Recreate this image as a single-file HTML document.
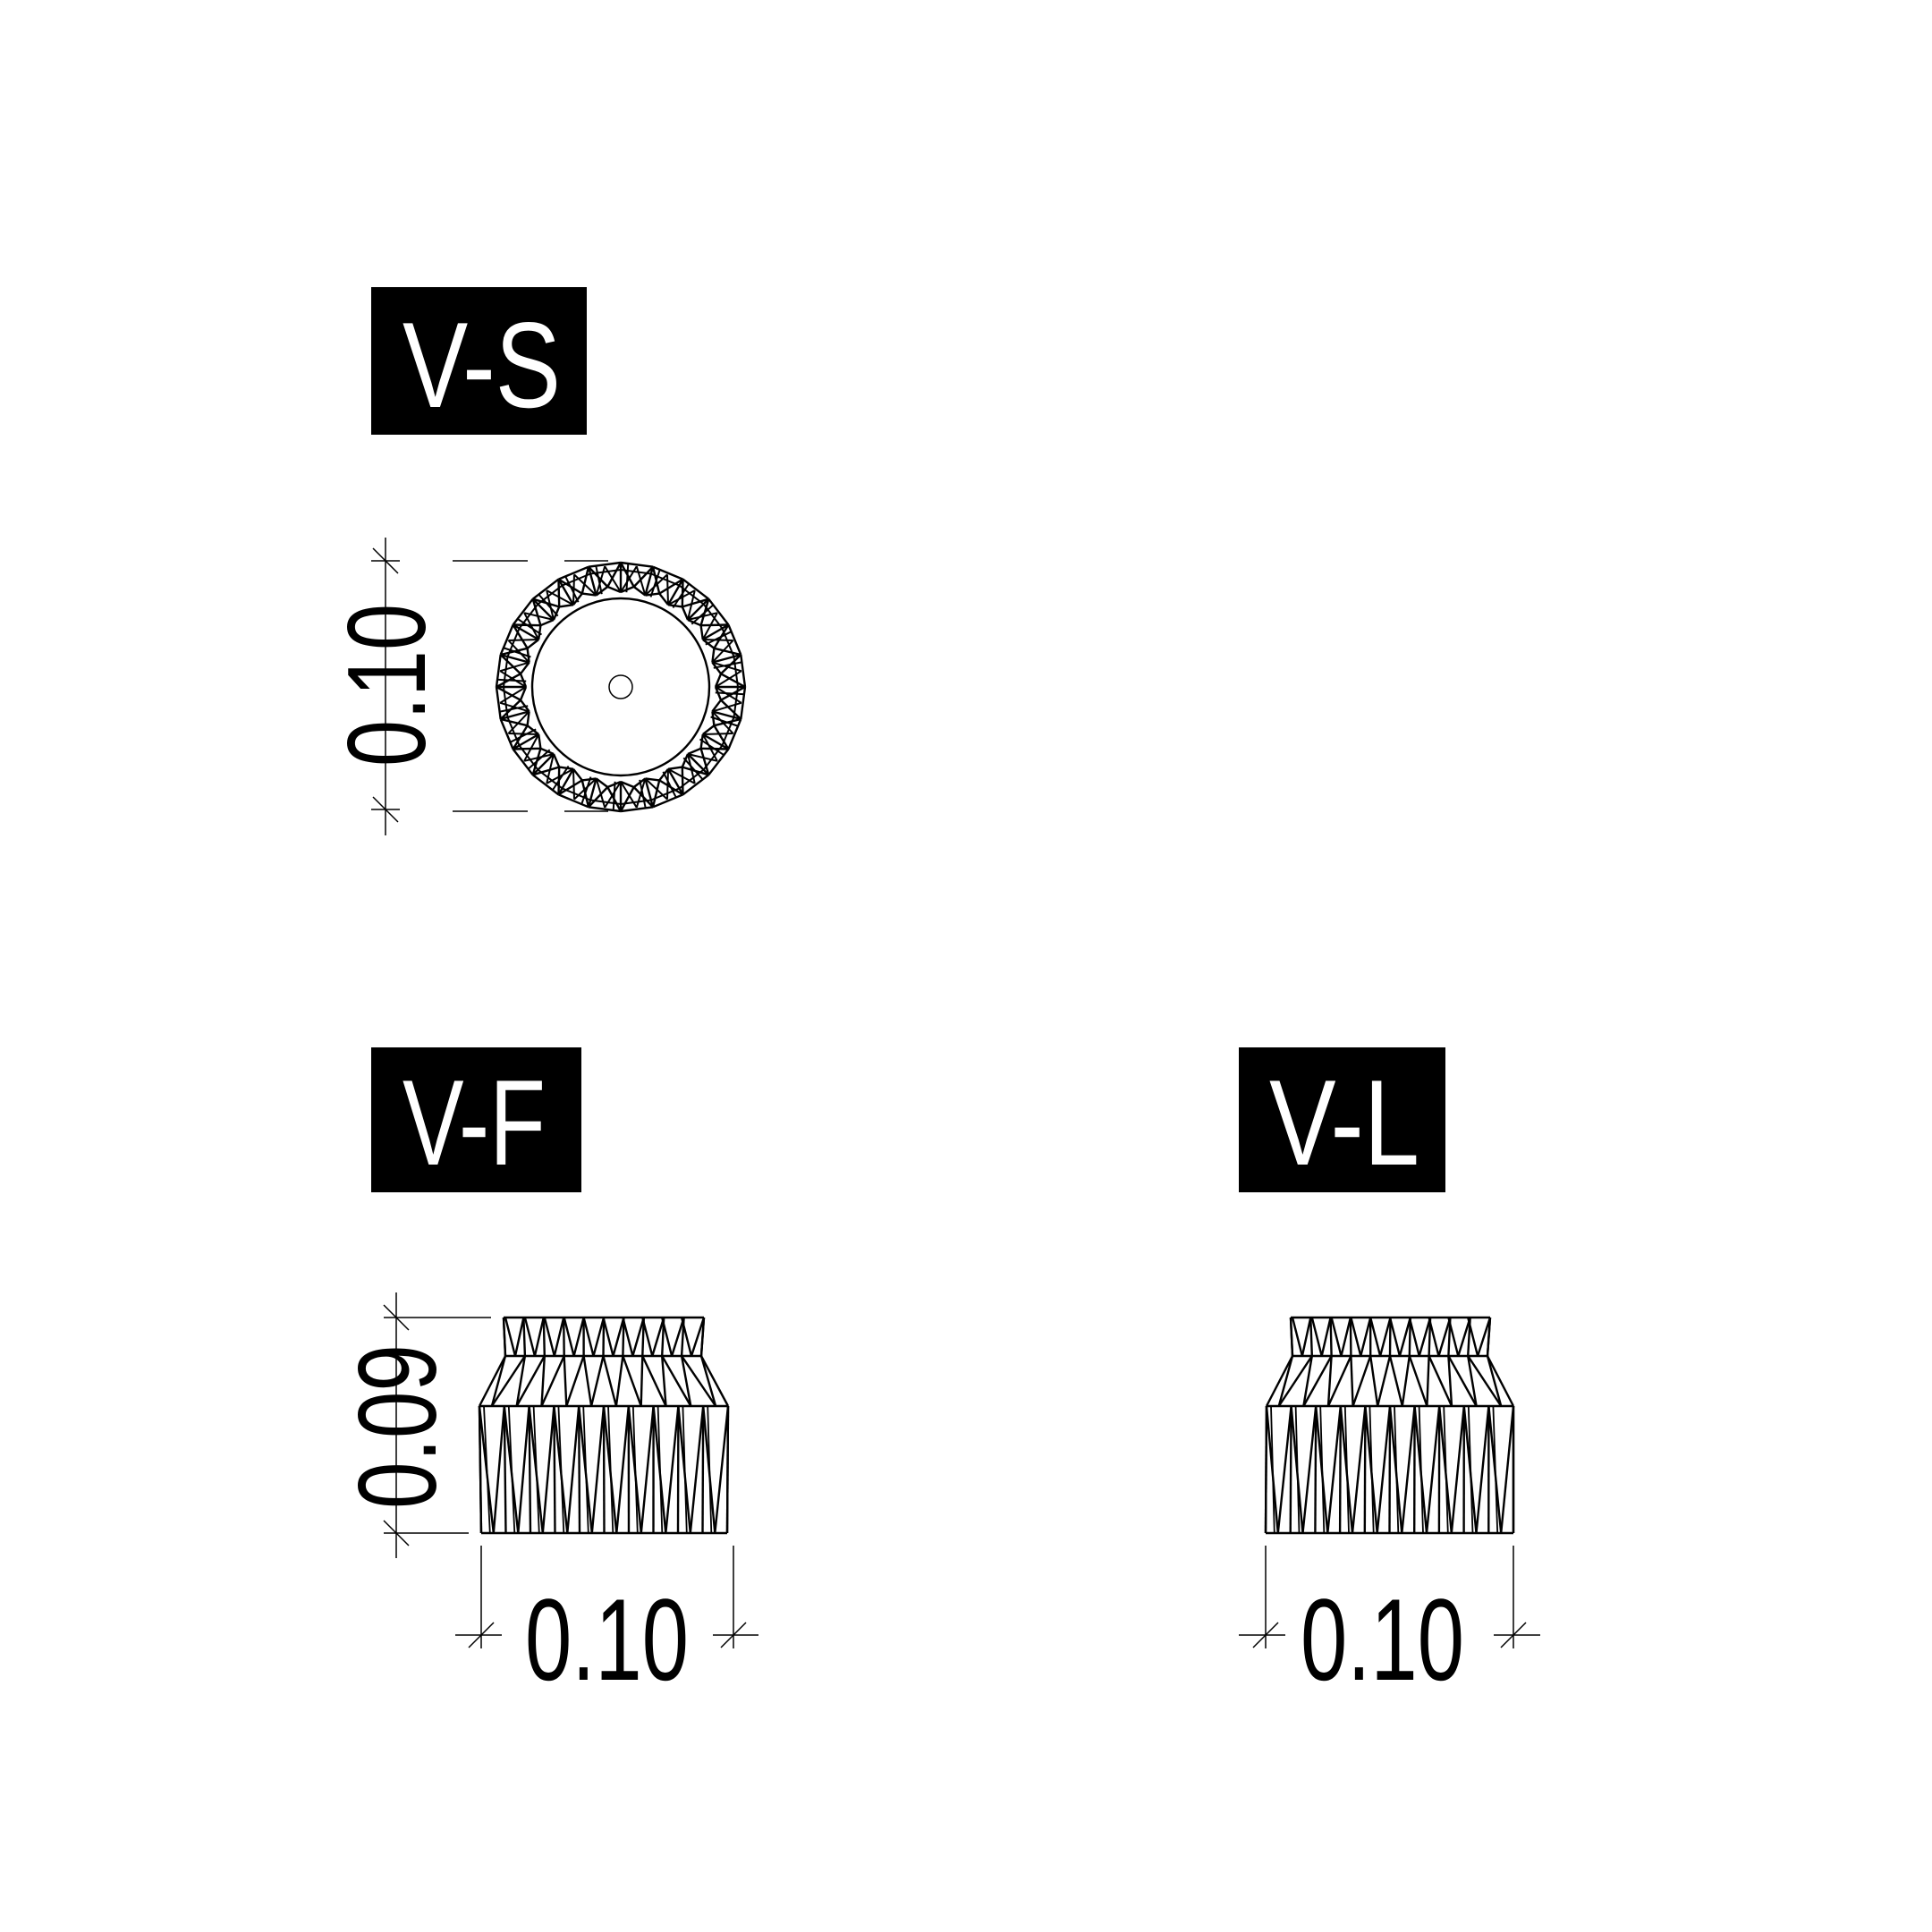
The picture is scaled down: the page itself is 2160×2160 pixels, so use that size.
<!DOCTYPE html>
<html><head><meta charset="utf-8"><style>
html,body{margin:0;padding:0;background:#fff;width:2160px;height:2160px;overflow:hidden}
svg{display:block}
text{font-family:"Liberation Sans",sans-serif}
</style></head><body>
<svg id="s" width="2160" height="2160" viewBox="0 0 2160 2160" xmlns="http://www.w3.org/2000/svg">
<rect width="2160" height="2160" fill="#fff"/>
<rect x="415" y="321" width="241" height="165" fill="#000"/>
<text x="450" y="455" font-size="136" fill="#fff" textLength="177" lengthAdjust="spacingAndGlyphs">V-S</text>
<rect x="415" y="1171" width="235" height="162" fill="#000"/>
<text x="450" y="1302" font-size="136" fill="#fff" textLength="160" lengthAdjust="spacingAndGlyphs">V-F</text>
<rect x="1385" y="1171" width="231" height="162" fill="#000"/>
<text x="1419" y="1302" font-size="136" fill="#fff" textLength="168" lengthAdjust="spacingAndGlyphs">V-L</text>
<g stroke="#000" stroke-width="1.5" fill="none">
<line x1="431" y1="601" x2="431" y2="934"/>
<line x1="415" y1="627" x2="447" y2="627"/><line x1="417" y1="613" x2="445" y2="641"/>
<line x1="415" y1="905" x2="447" y2="905"/><line x1="417" y1="891" x2="445" y2="919"/>
<line x1="506" y1="627" x2="590" y2="627"/><line x1="631" y1="627" x2="680" y2="627"/>
<line x1="506" y1="907" x2="590" y2="907"/><line x1="631" y1="907" x2="680" y2="907"/>
<line x1="443" y1="1445" x2="443" y2="1742"/>
<line x1="429" y1="1473" x2="549" y2="1473"/><line x1="429" y1="1459" x2="457" y2="1487"/>
<line x1="429" y1="1714" x2="524" y2="1714"/><line x1="429" y1="1700" x2="457" y2="1728"/>
<line x1="509" y1="1828" x2="561" y2="1828"/><line x1="797" y1="1828" x2="848" y2="1828"/>
<line x1="538" y1="1728" x2="538" y2="1843"/><line x1="820" y1="1728" x2="820" y2="1843"/>
<line x1="524" y1="1842" x2="552" y2="1814"/><line x1="806" y1="1842" x2="834" y2="1814"/>
<line x1="1385" y1="1828" x2="1437" y2="1828"/><line x1="1670" y1="1828" x2="1722" y2="1828"/>
<line x1="1415" y1="1728" x2="1415" y2="1843"/><line x1="1692" y1="1728" x2="1692" y2="1843"/>
<line x1="1401" y1="1842" x2="1429" y2="1814"/><line x1="1678" y1="1842" x2="1706" y2="1814"/>
</g>
<text font-size="124" transform="translate(475,857) rotate(-90)" textLength="182" lengthAdjust="spacingAndGlyphs">0.10</text>
<text font-size="124" transform="translate(487,1687) rotate(-90)" textLength="184" lengthAdjust="spacingAndGlyphs">0.09</text>
<text x="587" y="1878" font-size="130" textLength="183" lengthAdjust="spacingAndGlyphs">0.10</text>
<text x="1454" y="1878" font-size="130" textLength="183" lengthAdjust="spacingAndGlyphs">0.10</text>
<g id="g" stroke="#000" stroke-width="2.4" fill="none"></g>
</svg>
<script>
var g=document.getElementById('g'),h='';
function L(a,b,c,d,w){h+='<line x1="'+a.toFixed(1)+'" y1="'+b.toFixed(1)+'" x2="'+c.toFixed(1)+'" y2="'+d.toFixed(1)+'"'+(w?' stroke-width="'+w+'"':'')+'/>';}
var cx=694,cy=768,N=24,i;
h+='<circle cx="'+cx+'" cy="'+cy+'" r="13" stroke-width="1.5"/>';
h+='<circle cx="'+cx+'" cy="'+cy+'" r="99"/>';
function P(r,a){return [cx+r*Math.cos(a),cy+r*Math.sin(a)];}
for(i=0;i<N;i++){var a=i*2*Math.PI/N-Math.PI/2,b=(i+1)*2*Math.PI/N-Math.PI/2,m=(a+b)/2;
var o1=P(139,a),o2=P(139,b),i1=P(106,a),i2=P(106,b),im=P(113,m),om=P(136,m);
L(o1[0],o1[1],o2[0],o2[1]);L(i1[0],i1[1],im[0],im[1]);L(im[0],im[1],i2[0],i2[1]);
var q=P(131,a),q2=P(131,b);L(q[0],q[1],q2[0],q2[1],2);
L(o1[0],o1[1],i1[0],i1[1]);L(o1[0],o1[1],im[0],im[1]);L(o2[0],o2[1],im[0],im[1]);
var s=P(106,a+0.06),t=P(139,a+0.06);L(s[0],s[1],t[0],t[1],2);
L(om[0],om[1],i1[0],i1[1],2);L(om[0],om[1],i2[0],i2[1],2);}
function front(x0,x1,bx0,bx1,wx0,wx1,ox0,ox1,y0,y1,y2,y3){
L(x0,y0,x1,y0);L(bx0,y1,bx1,y1);L(wx0,y2,wx1,y2);L(ox0,y3,ox1,y3);
L(x0,y0,bx0,y1);L(x1,y0,bx1,y1);L(bx0,y1,wx0,y2);L(bx1,y1,wx1,y2);L(wx0,y2,ox0,y3);L(wx1,y2,ox1,y3);
var n=10;for(var k=0;k<=n;k++){var f=k/n,g2=(k+0.5)/n;
var xt=bx0+(bx1-bx0)*f, xb=ox0+(ox1-ox0)*f, xtm=bx0+(bx1-bx0)*g2, xbm=ox0+(ox1-ox0)*g2;
var xw=wx0+(wx1-wx0)*f,xwm=wx0+(wx1-wx0)*g2;
L(x0+(x1-x0)*f,y0,xt,y1);
if(k<n){L(xt,y0,xtm,y1);L(xtm,y1,x0+(x1-x0)*(k+1)/n,y0);
L(xt,y1,xwm,y2);L(xwm,y2,bx0+(bx1-bx0)*(k+1)/n,y1);
L(xw,y2,xbm,y3);L(xbm,y3,wx0+(wx1-wx0)*(k+1)/n,y2);
L(xw+5,y2,xbm-4,y3,1.8);}
L(xw,y2,xb,y3);}
}
front(563,787,565,784,536,814,538,813,1473,1516,1572,1714);
front(1443,1666,1445,1663,1416,1692,1415,1692,1473,1516,1572,1714);
g.innerHTML=h;
</script>
</body></html>
